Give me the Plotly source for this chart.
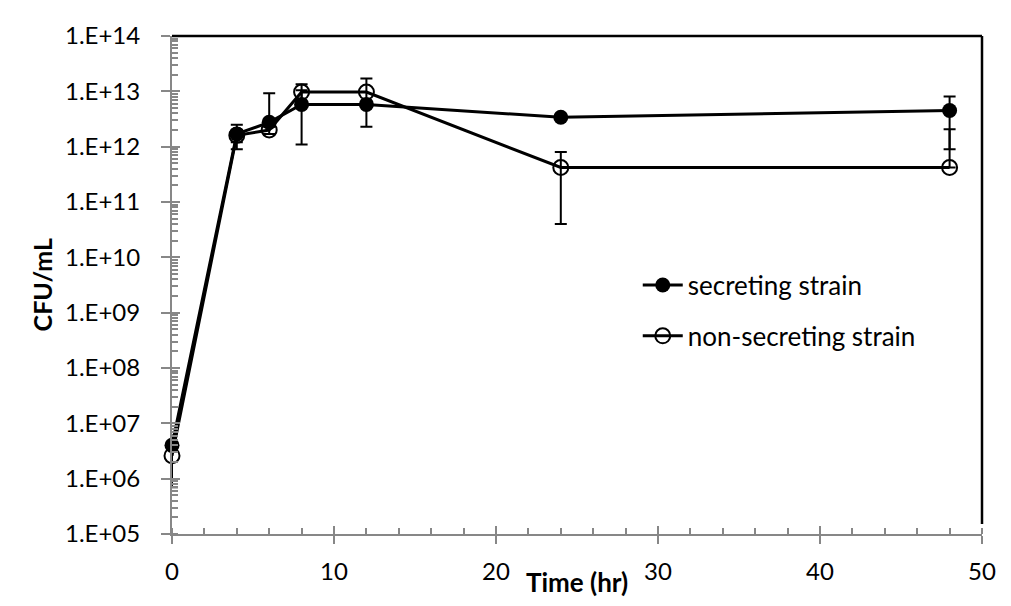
import plotly.graph_objects as go

time_hr = [0, 4, 6, 8, 12, 24, 48]

secreting = [4.0e6, 1.7e12, 2.75e12, 5.8e12, 5.8e12, 3.4e12, 4.5e12]
secreting_err_plus = [2.0e6, 0.8e12, 6.5e12, 4.7e12, 0.5e12, 0.3e12, 3.6e12]
secreting_err_minus = [2.0e6, 0.8e12, 0.0, 4.7e12, 0.5e12, 0.3e12, 3.6e12]

non_secreting = [2.6e6, 1.6e12, 2.0e12, 9.7e12, 9.7e12, 4.2e11, 4.2e11]
non_secreting_err_plus = [1.9e6, 0.4e12, 0.3e12, 3.7e12, 7.4e12, 3.8e11, 1.65e12]
non_secreting_err_minus = [1.9e6, 0.4e12, 0.3e12, 3.7e12, 7.4e12, 3.8e11, 0.0]

y_tickvals = [1e5, 1e6, 1e7, 1e8, 1e9, 1e10, 1e11, 1e12, 1e13, 1e14]
y_ticktext = ["1.E+05", "1.E+06", "1.E+07", "1.E+08", "1.E+09", "1.E+10",
              "1.E+11", "1.E+12", "1.E+13", "1.E+14"]
x_tickvals = [0, 10, 20, 30, 40, 50]

FONT = "Lato, 'Open Sans', sans-serif"
GRAY = "#878787"

fig = go.Figure()

fig.add_trace(go.Scatter(
    x=time_hr, y=non_secreting, name="non-secreting strain", mode="lines+markers",
    line=dict(color="black", width=3),
    marker=dict(symbol="circle-open", size=15, color="black", line=dict(width=2)),
    error_y=dict(type="data", symmetric=False, array=non_secreting_err_plus,
                 arrayminus=non_secreting_err_minus, color="black", thickness=2, width=6),
    legendrank=2, legendgroup="b", cliponaxis=False,
))
fig.add_trace(go.Scatter(
    x=time_hr, y=secreting, name="secreting strain", mode="lines+markers",
    line=dict(color="black", width=3),
    marker=dict(symbol="circle", size=15, color="black"),
    error_y=dict(type="data", symmetric=False, array=secreting_err_plus,
                 arrayminus=secreting_err_minus, color="black", thickness=2, width=6),
    legendrank=1, legendgroup="a", cliponaxis=False,
))
# dummy trace for overlay axes (inside halves of cross ticks)
fig.add_trace(go.Scatter(x=[None], y=[None], xaxis="x2", yaxis="y2",
                         showlegend=False, hoverinfo="skip"))

fig.update_layout(
    width=1011, height=606,
    margin=dict(l=164, r=37, t=26, b=80),
    paper_bgcolor="white", plot_bgcolor="white",
    font=dict(family=FONT, color="black", size=24),
    showlegend=True,
    legend=dict(x=0.575, y=0.547, xanchor="left", yanchor="top",
                font=dict(size=26, family=FONT), bgcolor="rgba(0,0,0,0)",
                tracegroupgap=14, itemwidth=40),
    xaxis=dict(range=[0, 50], tickvals=x_tickvals, ticks="outside", ticklen=8,
               tickcolor=GRAY, tickwidth=2, showline=True, linecolor=GRAY, linewidth=2,
               showgrid=False, zeroline=False, ticklabelstandoff=7,
               tickfont=dict(size=24, family=FONT),
               minor=dict(ticks="inside", ticklen=6, dtick=2, tickcolor=GRAY, tickwidth=2)),
    yaxis=dict(type="log", range=[5, 14], tickvals=y_tickvals, ticktext=y_ticktext,
               ticks="outside", ticklen=9, tickcolor=GRAY, tickwidth=2,
               showline=True, linecolor=GRAY, linewidth=2, showgrid=False, zeroline=False,
               ticklabelstandoff=16, tickfont=dict(size=24, family=FONT),
               minor=dict(ticks="inside", ticklen=6, dtick="D1", tickcolor=GRAY, tickwidth=2)),
    xaxis2=dict(overlaying="x", range=[0, 50], tickvals=x_tickvals, ticks="inside",
                ticklen=8, tickcolor=GRAY, tickwidth=2, showticklabels=False,
                showgrid=False, zeroline=False, showline=False, side="bottom"),
    yaxis2=dict(overlaying="y", type="log", range=[5, 14], tickvals=y_tickvals,
                ticks="inside", ticklen=8, tickcolor=GRAY, tickwidth=2,
                showticklabels=False, showgrid=False, zeroline=False, showline=False,
                side="left"),
    shapes=[
        dict(type="line", xref="x domain", yref="y domain", x0=0, x1=1, y0=1, y1=1,
             line=dict(color="black", width=2.5)),
        dict(type="line", xref="x domain", yref="y domain", x0=1, x1=1, y0=0.02, y1=1,
             line=dict(color="black", width=2.5)),
    ],
    annotations=[
        dict(text="<b>CFU/mL</b>", xref="paper", yref="paper", x=-0.16, y=0.5,
             xanchor="center", yanchor="middle", textangle=-90, showarrow=False,
             font=dict(size=25, family=FONT)),
        dict(text="<b>Time (hr)</b>", xref="paper", yref="paper", x=0.5, y=-0.096,
             xanchor="center", yanchor="middle", showarrow=False,
             font=dict(size=26, family=FONT)),
    ],
)

fig.write_html("out.html")
